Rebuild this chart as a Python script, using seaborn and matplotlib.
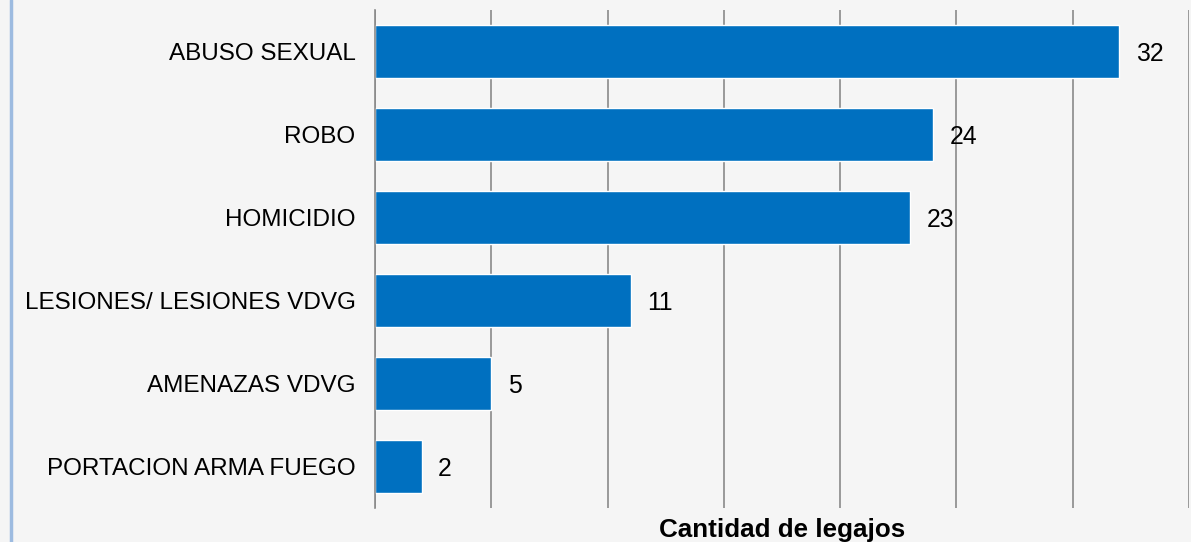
import matplotlib
matplotlib.use("Agg")
import matplotlib.pyplot as plt
import seaborn as sns
import pandas as pd

categories = ["ABUSO SEXUAL", "ROBO", "HOMICIDIO", "LESIONES/ LESIONES VDVG",
              "AMENAZAS VDVG", "PORTACION ARMA FUEGO"]
values = [32, 24, 23, 11, 5, 2]
x_label = "Cantidad de legajos"

sns.set_theme(style="white")
plt.rcParams['font.family'] = ['Liberation Sans', 'DejaVu Sans']

df = pd.DataFrame({"cat": categories, "val": values})

fig = plt.figure(figsize=(11.91, 5.42), dpi=100, facecolor="#f5f5f5")
ax = fig.add_axes([375/1191, 34/542, 814/1191, 498/542])
ax.set_facecolor("none")

sns.barplot(data=df, y="cat", x="val", orient="h", color="#0070C0",
            saturation=1, width=0.64, ax=ax)

ax.set_xlim(0, 35)
ax.set_ylim(5.5, -0.5)
ax.set_xticks(range(0, 36, 5))
ax.set_xticklabels([])
ax.grid(axis="x", color="#8a8a8a", linewidth=1.2)
ax.set_axisbelow(True)
for s in ["top", "right", "bottom"]:
    ax.spines[s].set_visible(False)
ax.spines["left"].set_color("#8a8a8a")
ax.spines["left"].set_linewidth(1.2)
ax.tick_params(axis="y", length=0, pad=14, labelsize=17.5, labelcolor="black")
ax.tick_params(axis="x", length=0)
ax.set_ylabel("")
ax.set_xlabel(x_label, fontsize=18.7, fontweight="bold", color="black", labelpad=4)

for i, v in enumerate(values):
    ax.annotate(str(v), xy=(v, i), xytext=(12, -1.5), textcoords="offset points",
                ha="left", va="center", fontsize=17.8, color="black")

fig.add_artist(plt.Line2D([10.5/1191, 10.5/1191], [0, 1], color="#9dbbe0",
                          linewidth=2.5, transform=fig.transFigure))

fig.savefig("out.png", dpi=100, facecolor=fig.get_facecolor())
